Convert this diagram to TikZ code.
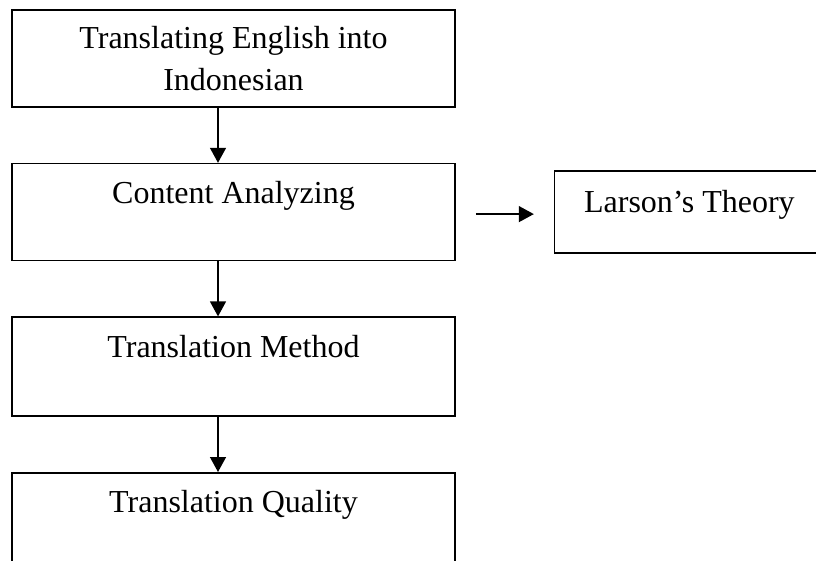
\documentclass[tikz,border=0pt]{standalone}
\usepackage{fontspec}
\setmainfont{Liberation Serif}
\usetikzlibrary{arrows.meta,positioning}

\begin{document}
\begin{tikzpicture}[
  x=1pt, y=-1pt,
  node distance=55pt and 98pt,
  box/.style={draw, line width=1.6pt, rectangle, inner xsep=0pt, inner ysep=0pt,
    minimum width=443pt, font=\fontsize{32}{42}\selectfont},
  topbox/.style={box, text height=40pt, text depth=57pt},
  arr/.style={-{Triangle[length=15pt, width=16pt]}, line width=1.4pt}
]
\useasboundingbox (0,0) rectangle (816,561);
\node[box, align=center, minimum height=97pt, text depth=-4pt] (translating) at (233.5,58.5) {Translating English into\\Indonesian};
\node[topbox, below=of translating] (content) {Content Analyzing};
\node[topbox, text depth=59pt, below=of content] (method) {Translation Method};
\node[topbox, text depth=70pt, below=of method] (quality) {Translation Quality};
\node[box, line width=1.2pt, minimum width=270pt, text height=41pt, text depth=41pt, right=of content] (larson) {Larson’s Theory};
\draw[arr] ([xshift=-15.5pt]translating.south) -- ([xshift=-15.5pt]content.north);
\draw[arr] ([xshift=-15.5pt]content.south) -- ([xshift=-15.5pt]method.north);
\draw[arr] ([xshift=-15.5pt]method.south) -- ([xshift=-15.5pt]quality.north);
\draw[arr] ([xshift=20pt,yshift=-2pt]content.east) -- ([xshift=-20pt,yshift=-2pt]larson.west);
\end{tikzpicture}
\end{document}
